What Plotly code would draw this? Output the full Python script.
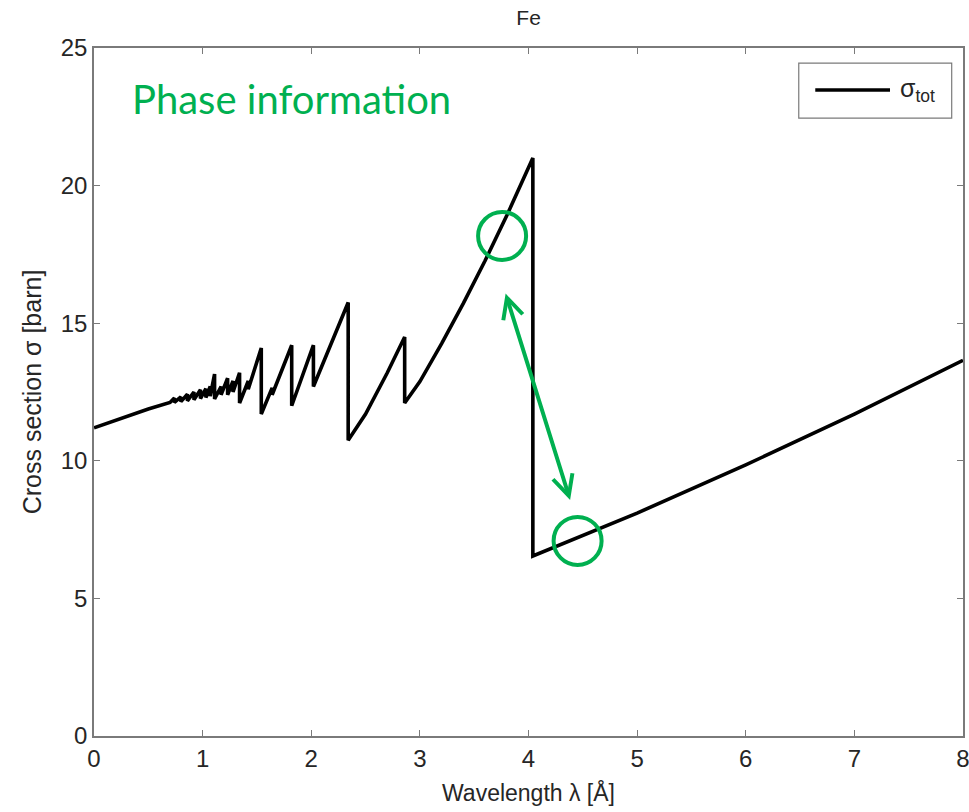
import plotly.graph_objects as go

# Total neutron cross section of Fe vs wavelength (vertices of the curve, Bragg edges as vertical drops)
wavelength = [0.00, 0.25, 0.50, 0.70, 0.74, 0.74, 0.80, 0.80, 0.86, 0.86, 0.92, 0.92, 0.98, 0.98,
              1.03, 1.03, 1.07, 1.07, 1.11, 1.11, 1.17, 1.17, 1.23, 1.23, 1.28, 1.28,
              1.34, 1.34, 1.42, 1.42, 1.54, 1.54, 1.64, 1.64, 1.82, 1.82, 2.02, 2.02,
              2.34, 2.34, 2.50, 2.70, 2.86, 2.86, 3.00, 3.20, 3.40, 3.60, 3.80, 4.04,
              4.04, 5.00, 6.00, 7.00, 8.00]
sigma_tot = [11.20, 11.55, 11.88, 12.12, 12.28, 12.12, 12.32, 12.15, 12.42, 12.18, 12.50, 12.22, 12.58, 12.26,
             12.62, 12.30, 12.70, 12.35, 13.15, 12.25, 12.70, 12.40, 13.00, 12.40, 12.90, 12.50,
             13.20, 12.10, 12.90, 12.60, 14.10, 11.70, 12.65, 12.40, 14.20, 12.00, 14.20, 12.70,
             15.75, 10.75, 11.70, 13.20, 14.50, 12.10, 12.88, 14.26, 15.72, 17.27, 18.91, 21.00,
             6.54, 8.10, 9.85, 11.70, 13.65]

# Highlighted points on either side of the Bragg edge (wavelength, cross section)
mark_x = [3.757, 4.452]
mark_y = [18.17, 7.09]
# Double arrow linking them
arrow_x = [3.785, 4.383]
arrow_y = [16.13, 8.58]

x_ticks = [0, 1, 2, 3, 4, 5, 6, 7, 8]
y_ticks = [0, 5, 10, 15, 20, 25]

GREEN = "#00B050"
AXIS = "#7a7a7a"
TXT = "#262626"
FONT = "Liberation Sans, Arial, sans-serif"

fig = go.Figure()
fig.add_trace(go.Scatter(
    x=wavelength, y=sigma_tot, mode="lines", name="σ<sub>tot</sub>",
    line=dict(color="black", width=3.6), showlegend=False,
))

axis_common = dict(
    showgrid=False, zeroline=False, showline=True, linecolor=AXIS, linewidth=1.5,
    mirror="ticks", ticks="inside", ticklen=6, tickwidth=1, tickcolor=AXIS,
    tickfont=dict(family=FONT, size=24, color=TXT), automargin=False,
    ticklabeloverflow="allow",
)
fig.update_xaxes(range=[0, 8], tickvals=x_ticks, **axis_common,
                 title=dict(text="Wavelength λ [Å]", font=dict(family=FONT, size=23, color=TXT), standoff=14))
fig.update_yaxes(range=[0, 25], tickvals=y_ticks, **axis_common,
                 title=dict(text="Cross section σ [barn]", font=dict(family=FONT, size=25, color=TXT), standoff=12))

shapes = []
for cx, cy in zip(mark_x, mark_y):
    shapes.append(dict(type="circle", xref="x", yref="y", xsizemode="pixel", ysizemode="pixel",
                       xanchor=cx, yanchor=cy, x0=-24, x1=24, y0=-24, y1=24,
                       line=dict(color=GREEN, width=4)))
# legend box and sample line
shapes.append(dict(type="rect", xref="paper", yref="paper", x0=0.811, x1=0.987, y0=0.898, y1=0.978,
                   line=dict(color=AXIS, width=1.2), fillcolor="white", layer="above"))
shapes.append(dict(type="line", xref="paper", yref="paper", x0=0.830, x1=0.916, y0=0.939, y1=0.939,
                   line=dict(color="black", width=3.6), layer="above"))

annotations = [
    dict(x=arrow_x[1], y=arrow_y[1], ax=arrow_x[0], ay=arrow_y[0], xref="x", yref="y",
         axref="x", ayref="y", showarrow=True, arrowhead=5, startarrowhead=5,
         arrowside="end+start", arrowwidth=4, arrowsize=1, startarrowsize=1,
         arrowcolor=GREEN, text=""),
    dict(x=0.33, y=23.15, xref="x", yref="y", xanchor="left", yanchor="middle",
         text="Phase information", showarrow=False,
         font=dict(family="Lato, Open Sans, sans-serif", size=40, color=GREEN)),
    dict(x=0.925, y=0.939, xref="paper", yref="paper", xanchor="left", yanchor="middle",
         text="σ<sub>tot</sub>", showarrow=False,
         font=dict(family=FONT, size=25, color=TXT)),
]

fig.update_layout(
    width=969, height=812,
    margin=dict(l=94, r=6, t=48, b=76),
    paper_bgcolor="white", plot_bgcolor="white",
    title=dict(text="Fe", x=0.5455, xanchor="center", y=0.978, yanchor="middle",
               font=dict(family=FONT, size=21, color=TXT)),
    shapes=shapes, annotations=annotations,
)

fig.write_html("out.html")
